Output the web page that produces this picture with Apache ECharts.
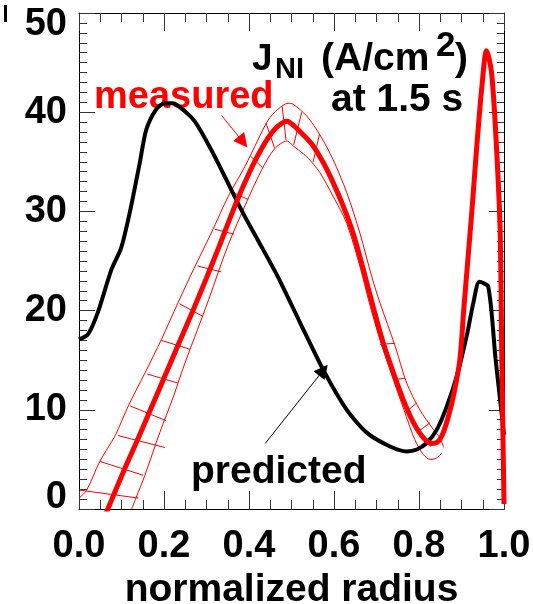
<!DOCTYPE html>
<html>
<head>
<meta charset="utf-8">
<script src="https://cdn.jsdelivr.net/npm/echarts@6/dist/echarts.min.js"></script>
<style>
  html, body { margin: 0; padding: 0; background: #fff; }
  #chart { width: 533px; height: 604px; }
</style>
</head>
<body>
<div id="chart"></div>
<script>
// Non-inductive current density profiles J_NI (A/cm^2) at 1.5 s vs normalized radius

// x-axis ticks
const xTickValues = [0.0, 0.2, 0.4, 0.6, 0.8, 1.0];
// y-axis ticks
const yTickValues = [0, 10, 20, 30, 40, 50];

// predicted profile (black)
const predictedX = [0.000, 0.021, 0.045, 0.076, 0.099, 0.119, 0.143, 0.158, 0.182, 0.202, 0.221, 0.249, 0.272, 0.296,
  0.327, 0.358, 0.390, 0.421, 0.468, 0.520, 0.575, 0.630, 0.677, 0.732, 0.771, 0.795, 0.818, 0.842, 0.865, 0.889,
  0.912, 0.928, 0.942, 0.963, 0.980, 1.000];
const predictedY = [17.1, 17.6, 19.9, 24.1, 26.3, 29.8, 34.9, 38.2, 40.3, 40.9, 40.9, 40.1, 39.1, 37.4,
  34.9, 32.2, 29.5, 27.1, 23.4, 18.8, 14.0, 10.0, 7.7, 6.3, 5.8, 6.0, 6.65, 8.0, 10.3, 13.4,
  17.4, 20.8, 22.9, 22.4, 15.2, 7.5];

// measured profile (red, thick)
const measuredX = [0.062, 0.107, 0.139, 0.170, 0.202, 0.236, 0.269, 0.300, 0.330, 0.358, 0.386, 0.413, 0.445, 0.468,
  0.490, 0.504, 0.528, 0.551, 0.575, 0.598, 0.622, 0.645, 0.668, 0.692, 0.716, 0.740, 0.763, 0.787, 0.810, 0.830,
  0.845, 0.857, 0.869, 0.881, 0.896, 0.906, 0.924, 0.936, 0.948, 0.959, 0.971, 0.983, 0.991, 0.995, 1.000];
const measuredY = [-0.6, 4.0, 7.1, 10.2, 13.4, 16.8, 20.1, 23.3, 26.5, 29.6, 32.5, 35.0, 37.4, 38.6,
  39.1, 38.7, 37.7, 36.6, 34.9, 32.9, 30.5, 27.8, 24.3, 20.4, 16.7, 13.7, 11.0, 8.7, 7.2, 6.6,
  6.8, 7.7, 9.3, 11.4, 15.0, 20.5, 29.8, 36.6, 42.6, 46.2, 43.9, 35.9, 27.9, 14.7, 0.5];

// uncertainty envelope of the measured profile (thin red)
const bandUpperX = [0.000, 0.018, 0.049, 0.085, 0.115, 0.155, 0.194, 0.233, 0.270, 0.311, 0.351, 0.390, 0.421, 0.445,
  0.468, 0.492, 0.504, 0.536, 0.567, 0.598, 0.630, 0.661, 0.689, 0.708, 0.744, 0.771, 0.802, 0.834, 0.849, 0.858];
const bandUpperY = [1.1, 1.9, 4.8, 7.4, 10.3, 13.7, 17.1, 20.8, 24.2, 27.8, 31.5, 34.5, 37.2, 39.2,
  40.3, 40.9, 40.8, 39.6, 37.7, 35.2, 31.9, 27.8, 23.4, 20.8, 16.4, 12.7, 10.0, 8.0, 7.2, 6.2];
const bandLowerX = [0.124, 0.134, 0.155, 0.190, 0.221, 0.250, 0.279, 0.305, 0.350, 0.395, 0.430, 0.460, 0.490, 0.504,
  0.536, 0.567, 0.598, 0.630, 0.662, 0.683, 0.705, 0.732, 0.767, 0.790, 0.810, 0.826, 0.840, 0.853];
const bandLowerY = [0.0, 1.1, 3.4, 7.7, 11.2, 14.8, 18.1, 21.1, 26.5, 31.0, 34.2, 36.3, 37.1, 36.6,
  35.5, 33.9, 31.5, 28.8, 24.3, 20.8, 17.5, 14.0, 9.7, 7.0, 5.5, 5.0, 5.1, 5.6];

// error-bar cross segments across the envelope: start (x1,y1) to end (x2,y2)
const hatchX1 = [0.002, 0.049, 0.092, 0.120, 0.161, 0.194, 0.236, 0.279, 0.320, 0.362, 0.403, 0.440, 0.478, 0.524, 0.566,
  0.708, 0.740, 0.767, 0.795, 0.826];
const hatchY1 = [1.9, 4.8, 7.4, 10.4, 13.6, 17.0, 20.7, 24.5, 28.2, 31.9, 35.6, 38.9, 40.6, 40.0, 37.8,
  16.6, 13.0, 9.7, 7.7, 6.3];
const hatchX2 = [0.140, 0.151, 0.202, 0.205, 0.232, 0.261, 0.292, 0.335, 0.365, 0.398, 0.432, 0.460, 0.487, 0.505, 0.551,
  0.744, 0.767, 0.795, 0.826, 0.853];
const hatchY2 = [1.1, 3.4, 6.2, 8.9, 12.7, 16.1, 19.4, 23.9, 27.7, 31.2, 34.4, 36.4, 37.2, 36.7, 35.0,
  16.7, 13.2, 10.7, 8.7, 7.3];

// annotation arrows: [x1, y1, x2, y2]
const measuredArrow = [0.335, 39.7, 0.386, 37.0];
const predictedArrow = [0.438, 6.6, 0.575, 14.0];

const FONT = '"Liberation Sans", Arial, Helvetica, sans-serif';
const zip = (xs, ys) => xs.map((x, i) => [x, ys[i]]);

const X_MIN = xTickValues[0], X_MAX = xTickValues[xTickValues.length - 1];
const Y_MIN = yTickValues[0], Y_MAX = yTickValues[yTickValues.length - 1];

// inward frame ticks: [major, minor] lengths in pixels
const TICK_LEN = { bottom: [18, 9], top: [18, 9], left: [16, 8], right: [15, 7] };
const TICK_COLOR = '#333';

const chart = echarts.init(document.getElementById('chart'), null, { renderer: 'canvas' });

const frameStyle = () => ({ color: '#000', width: 1 });
const labelFont = () => ({ fontFamily: FONT, fontWeight: 'bold', fontSize: 38, color: '#000' });
const ticks = (side, splitNumber) => ({
  axisTick: { show: true, inside: true, length: TICK_LEN[side][0], lineStyle: { color: TICK_COLOR, width: 1 } },
  minorTick: { show: true, splitNumber: splitNumber, length: TICK_LEN[side][1], lineStyle: { color: TICK_COLOR, width: 1 } }
});

const option = {
  backgroundColor: '#fff',
  animation: false,
  grid: { left: 79, right: 29, top: 13, bottom: 95, containLabel: false, outerBoundsMode: 'none' },
  xAxis: [
    Object.assign({
      type: 'value', position: 'bottom', min: X_MIN, max: X_MAX, interval: 0.2,
      axisLine: { show: true, onZero: false, lineStyle: frameStyle() },
      splitLine: { show: false },
      axisLabel: Object.assign({ margin: 19, formatter: v => v.toFixed(1) }, labelFont()),
      name: 'normalized radius', nameLocation: 'middle', nameGap: 58,
      nameTextStyle: { fontFamily: FONT, fontWeight: 'bold', fontSize: 39, color: '#000' }
    }, ticks('bottom', 4)),
    Object.assign({
      type: 'value', position: 'top', min: X_MIN, max: X_MAX, interval: 0.2,
      axisLine: { show: true, onZero: false, lineStyle: frameStyle() },
      splitLine: { show: false },
      axisLabel: { show: false }
    }, ticks('top', 4))
  ],
  yAxis: [
    Object.assign({
      type: 'value', position: 'left', min: Y_MIN, max: Y_MAX, interval: 10,
      axisLine: { show: true, onZero: false, lineStyle: frameStyle() },
      splitLine: { show: false },
      axisLabel: Object.assign({
        margin: 12,
        formatter: v => v === Y_MIN ? '{lo|' + v + '}' : v === Y_MAX ? '{hi|' + v + '}' : String(v),
        rich: {
          lo: Object.assign({ padding: [0, 0, 22, 0] }, labelFont()),
          hi: Object.assign({ padding: [24, 0, 0, 0] }, labelFont())
        }
      }, labelFont())
    }, ticks('left', 10)),
    Object.assign({
      type: 'value', position: 'right', min: Y_MIN, max: Y_MAX, interval: 10,
      axisLine: { show: true, onZero: false, lineStyle: frameStyle() },
      splitLine: { show: false },
      axisLabel: { show: false }
    }, ticks('right', 10))
  ],
  series: [
    {
      name: 'envelope upper', type: 'line', data: zip(bandUpperX, bandUpperY),
      smooth: 0.3, symbol: 'none', clip: true,
      lineStyle: { color: '#ff0000', width: 1 }, z: 2
    },
    {
      name: 'envelope lower', type: 'line', data: zip(bandLowerX, bandLowerY),
      smooth: 0.3, symbol: 'none', clip: true,
      lineStyle: { color: '#ff0000', width: 1 }, z: 2
    },
    {
      name: 'error bars', type: 'lines', coordinateSystem: 'cartesian2d',
      data: hatchX1.map((x, i) => ({ coords: [[x, hatchY1[i]], [hatchX2[i], hatchY2[i]]] })),
      lineStyle: { color: '#ff0000', width: 1, opacity: 1 }, symbol: 'none', z: 2
    },
    {
      name: 'predicted', type: 'line', data: zip(predictedX, predictedY),
      smooth: 0.25, symbol: 'none', clip: true,
      lineStyle: { color: '#000', width: 4 }, z: 3
    },
    {
      name: 'measured', type: 'line', data: zip(measuredX, measuredY),
      smooth: 0.3, symbol: 'none', clip: true,
      lineStyle: { color: '#ff0000', width: 5 }, z: 4
    },
    {
      name: 'arrows', type: 'lines', coordinateSystem: 'cartesian2d',
      symbol: ['none', 'triangle'], symbolSize: [10, 14],
      data: [
        { coords: [[measuredArrow[0], measuredArrow[1]], [measuredArrow[2], measuredArrow[3]]],
          lineStyle: { color: '#ff0000', width: 1, opacity: 1 } },
        { coords: [[predictedArrow[0], predictedArrow[1]], [predictedArrow[2], predictedArrow[3]]],
          lineStyle: { color: '#000', width: 1, opacity: 1 } }
      ],
      z: 5
    }
  ],
  graphic: [
    { type: 'rect', shape: { x: 4, y: 5, width: 3, height: 17 }, style: { fill: '#000' } },
    { type: 'text', left: 94, top: 79, style: { text: 'measured', font: 'bold 38px ' + FONT, fill: '#ff0000' } },
    { type: 'text', left: 191, top: 453, style: { text: 'predicted', font: 'bold 39px ' + FONT, fill: '#000' } },
    { type: 'text', left: 252, top: 41, style: { text: 'J', font: 'bold 37px ' + FONT, fill: '#000' } },
    { type: 'text', left: 275, top: 55, style: { text: 'NI', font: 'bold 29px ' + FONT, fill: '#000' } },
    { type: 'text', left: 321, top: 40, style: { text: '(A/cm', font: 'bold 39px ' + FONT, fill: '#000' } },
    { type: 'text', left: 436, top: 29, style: { text: '2', font: 'bold 35px ' + FONT, fill: '#000' } },
    { type: 'text', left: 455, top: 40, style: { text: ')', font: 'bold 39px ' + FONT, fill: '#000' } },
    { type: 'text', left: 331, top: 81, style: { text: 'at 1.5 s', font: 'bold 39px ' + FONT, fill: '#000' } }
  ]
};

chart.setOption(option);
</script>
</body>
</html>
